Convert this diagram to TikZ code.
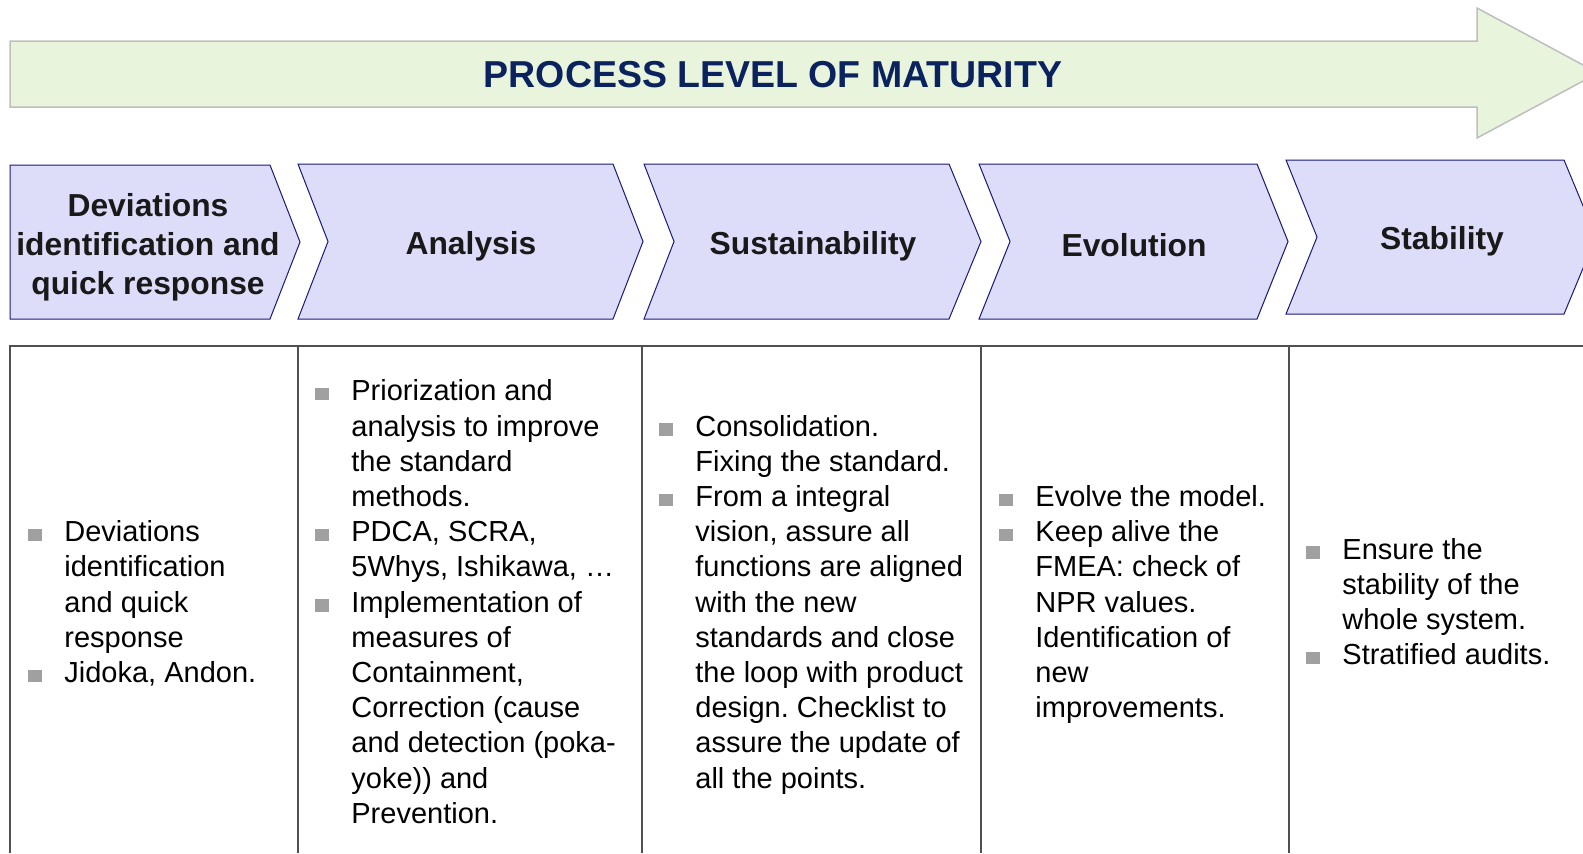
\documentclass[tikz,border=0pt]{standalone}
\usepackage{fontspec}
\setmainfont{Liberation Sans}
\usepackage{tikz}
\usepackage{xcolor}
\usepackage{array}

\definecolor{maturityfill}{RGB}{232,245,220}
\definecolor{maturityedge}{RGB}{190,190,190}
\definecolor{maturitytext}{RGB}{10,35,95}
\definecolor{phasefill}{RGB}{221,221,250}
\definecolor{phaseedge}{RGB}{25,25,120}
\definecolor{gridline}{RGB}{80,80,80}
\definecolor{bulletgray}{RGB}{160,160,160}

\frenchspacing

\begin{document}
\begin{tikzpicture}[x=0.5pt, y=-0.5pt]
	\tikzstyle{maturity} = [
	fill=maturityfill,
	draw=maturityedge,
	line width=0.75pt,
	line join=miter
];
	\tikzstyle{chevron} = [
	fill=phasefill, %lavender inside
	draw=phaseedge, %thin navy border
	line width=0.5pt
];
	\tikzstyle{phase} = [
	inner sep=0pt,
	align=center,
	text=black!90,
	font=\fontsize{15.9}{19.5}\selectfont\bfseries
];
	\tikzstyle{cell} = [
	inner sep=0pt,
	anchor=west,
	font=\fontsize{14.5}{17.6}\selectfont
];
	\tikzstyle{grid} = [
	draw=gridline,
	line width=0.75pt
];
\newcommand{\sqbullet}{\textcolor{bulletgray}{\rule[0.2pt]{6.8pt}{6.2pt}}}

\useasboundingbox (0,0) rectangle (1583,853);
\clip (0,0) rectangle (1583,853);

%big arrow on top
\draw[maturity] (10,41) -- (1477,41) -- (1477,8) -- (1598,73) -- (1477,138)
	-- (1477,107) -- (10,107) -- cycle;
\node[text=maturitytext, font=\fontsize{18.75}{22}\selectfont\bfseries, inner sep=0pt]
	(maturity) at (773,75) {PROCESS LEVEL OF MATURITY};

%phases
\draw[chevron] (10,165) -- (270,165) -- (300,242) -- (270,319) -- (10,319) -- cycle;
\draw[chevron] (298,164) -- (613,164) -- (643,241.5) -- (613,319) -- (298,319) -- (328,241.5) -- cycle;
\draw[chevron] (644,164) -- (949,164) -- (981,241.5) -- (949,319) -- (644,319) -- (674,241.5) -- cycle;
\draw[chevron] (979,164) -- (1257,164) -- (1288,241.5) -- (1257,319) -- (979,319) -- (1010,241.5) -- cycle;
\draw[chevron] (1286,160) -- (1564,160) -- (1596,237) -- (1564,314) -- (1286,314) -- (1317,237) -- cycle;

\node[phase](deviations) at (148,247) {Deviations\\identification and\\quick response};
\node[phase](analysis) at (471,246) {Analysis};
\node[phase](sustain) at (813,246) {Sustainability};
\node[phase](evolution) at (1134,245) {Evolution};
\node[phase](stability) at (1442,241) {Stability};

%table below the phases
\draw[grid] (10,853) -- (10,346) -- (1600,346);
\foreach \colx in {298,642,981,1289}
	\draw[grid] (\colx,346) -- (\colx,853);

\node[cell](devtext) at (28,605) {\begin{tabular}{@{}p{18pt}@{}l@{}}
\sqbullet & Deviations\\
 & identification\\
 & and quick\\
 & response\\
\sqbullet & Jidoka, Andon.
\end{tabular}};

\node[cell](analysistext) at (315,605) {\begin{tabular}{@{}p{18pt}@{}l@{}}
\sqbullet & Priorization and\\
 & analysis to improve\\
 & the standard\\
 & methods.\\
\sqbullet & PDCA, SCRA,\\
 & 5Whys, Ishikawa, …\\
\sqbullet & Implementation of\\
 & measures of\\
 & Containment,\\
 & Correction (cause\\
 & and detection (poka-\\
 & yoke)) and\\
 & Prevention.
\end{tabular}};

\node[cell](sustaintext) at (659,605) {\begin{tabular}{@{}p{18pt}@{}l@{}}
\sqbullet & Consolidation.\\
 & Fixing the standard.\\
\sqbullet & From a integral\\
 & vision, assure all\\
 & functions are aligned\\
 & with the new\\
 & standards and close\\
 & the loop with product\\
 & design. Checklist to\\
 & assure the update of\\
 & all the points.
\end{tabular}};

\node[cell](evolutiontext) at (999,605) {\begin{tabular}{@{}p{18pt}@{}l@{}}
\sqbullet & Evolve the model.\\
\sqbullet & Keep alive the\\
 & FMEA: check of\\
 & NPR values.\\
 & Identification of\\
 & new\\
 & improvements.
\end{tabular}};

\node[cell](stabilitytext) at (1306,605) {\begin{tabular}{@{}p{18pt}@{}l@{}}
\sqbullet & Ensure the\\
 & stability of the\\
 & whole system.\\
\sqbullet & Stratified audits.
\end{tabular}};

\end{tikzpicture}
\end{document}
